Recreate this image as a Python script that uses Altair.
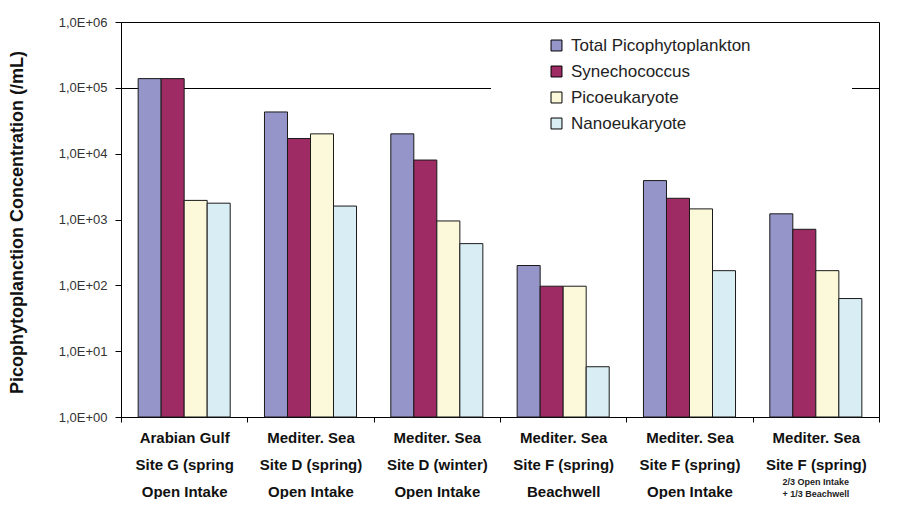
import altair as alt
import pandas as pd

# ---- data ----
sites = [
    "Arabian Gulf|Site G (spring|Open Intake",
    "Mediter. Sea|Site D (spring)|Open Intake",
    "Mediter. Sea|Site D (winter)|Open Intake",
    "Mediter. Sea|Site F (spring)|Beachwell",
    "Mediter. Sea|Site F (spring)|Open Intake",
    "Mediter. Sea|Site F (spring)",
]
series = ["Total Picophytoplankton", "Synechococcus", "Picoeukaryote", "Nanoeukaryote"]
total = [138000, 43000, 20000, 200, 3900, 1220]
synecho = [138000, 17000, 8000, 97, 2100, 710]
picoeuk = [1950, 20000, 950, 97, 1450, 167]
nanoeuk = [1770, 1600, 430, 5.8, 167, 63]
colors = ["#9595C9", "#9E2B63", "#FBF9DA", "#D8EEF4"]
y_ticks = [1, 10, 100, 1000, 10000, 100000, 1000000]
note_site = sites[5]
note_text = "2/3 Open Intake\n+ 1/3 Beachwell"

rows = []
for name, vals in zip(series, [total, synecho, picoeuk, nanoeuk]):
    for s, v in zip(sites, vals):
        rows.append({"site": s, "series": name, "value": v})
df = pd.DataFrame(rows)
note_df = pd.DataFrame({"site": [note_site], "note": [note_text]})

FONT = "Liberation Sans"
BLANK = "\u2800"

xenc = alt.X(
    "site:N",
    sort=sites,
    title=None,
    scale=alt.Scale(paddingInner=0, paddingOuter=0),
    axis=alt.Axis(
        labelExpr="split(datum.label, '|')",
        labelAngle=0,
        labelFont=FONT,
        labelFontSize=15,
        labelFontWeight="bold",
        labelColor="#111",
        labelLineHeight=27,
        labelPadding=8,
        labelBaseline="top",
        tickBand="extent",
        tickSize=5,
        tickColor="black",
        domainColor="black",
        labelLimit=300,
    ),
)

bars = alt.Chart(df).mark_bar(stroke="#1a1a1a", strokeWidth=1).encode(
    x=xenc,
    xOffset=alt.XOffset(
        "series:N", sort=series, scale=alt.Scale(paddingInner=0, paddingOuter=0.745)
    ),
    y=alt.Y(
        "value:Q",
        scale=alt.Scale(type="log", domain=[1, 1000000], nice=False),
        axis=alt.Axis(
            values=y_ticks,
            labelExpr="'1,0E+0' + round(log(datum.value) / LN10)",
            labelFont=FONT,
            labelFontSize=13,
            labelColor="#333",
            labelPadding=8,
            tickSize=6,
            tickColor="black",
            domainColor="black",
            grid=True,
            gridColor="black",
            gridWidth=1,
            gridOpacity={
                "condition": {"test": "abs(datum.value - 100000) < 1", "value": 1},
                "value": 0,
            },
            title="Picophytoplanction Concentration (/mL)",
            titleFont=FONT,
            titleFontSize=18,
            titleFontWeight="bold",
            titleColor="#111",
            titleAngle=270,
            titleX=-104,
            titleY=200,
            titleAlign="center",
            titleBaseline="middle",
        ),
    ),
    y2=alt.datum(1),
    color=alt.Color(
        "series:N",
        sort=series,
        scale=alt.Scale(domain=series, range=colors),
        legend=alt.Legend(
            orient="none",
            legendX=370,
            legendY=10,
            title="MMMMMM",
            titleColor="white",
            titleOrient="left",
            titleFont=FONT,
            titleFontSize=10,
            titlePadding=2,
            padding=5,
            fillColor="white",
            labelFont=FONT,
            labelFontSize=17,
            labelColor="#222",
            labelLimit=600,
            labelOffset=6,
            labelExpr="datum.label + '" + BLANK * 8 + "'",
            symbolType="square",
            symbolSize=120,
            symbolStrokeColor="black",
            symbolStrokeWidth=1,
            rowPadding=8,
        ),
    ),
)

note = alt.Chart(note_df).mark_text(
    lineBreak="\n",
    font=FONT,
    fontSize=9,
    fontWeight="bold",
    baseline="top",
    lineHeight=12,
    color="#222",
).encode(x=xenc, y=alt.value(456), text="note:N")

chart = (
    alt.layer(bars, note)
    .properties(
        width=758,
        height=395,
        autosize=alt.AutoSizeParams(type="none"),
        padding={"left": 113, "top": 14, "right": 17, "bottom": 82},
        background="white",
    )
    .configure_view(stroke="black", strokeWidth=1)
)

chart.save("out.html", embed_options={"renderer": "svg", "actions": False})
